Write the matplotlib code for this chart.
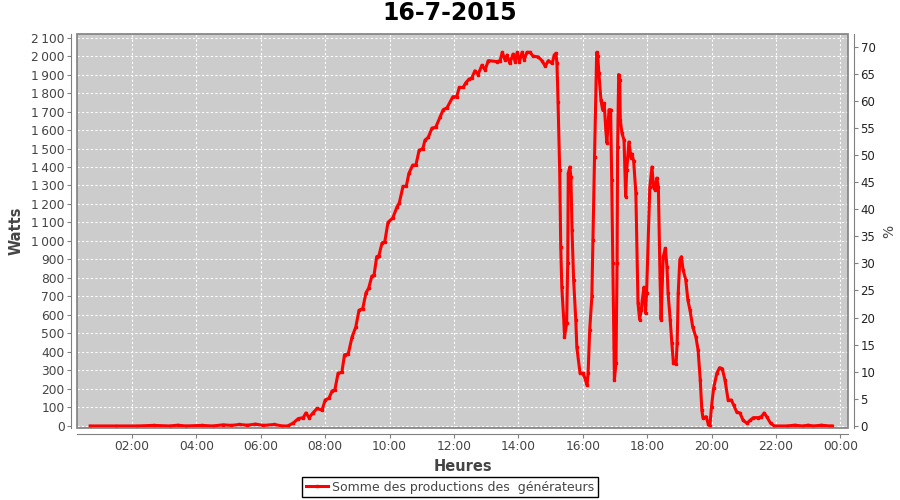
import matplotlib
matplotlib.use('Agg')
import numpy as np
from matplotlib import pyplot as plt
from matplotlib.patches import Rectangle
from matplotlib.ticker import FuncFormatter

# heures de mesure et puissance lue (W)
heures = ['00:42', '01:30', '02:10', '02:40', '03:10', '03:25', '03:40', '04:10', '04:30', '04:50',
          '05:05', '05:20', '05:35', '05:50', '06:05', '06:25', '06:40', '06:50', '07:00', '07:10',
          '07:19', '07:24', '07:30', '07:37', '07:45', '07:54', '08:00', '08:07', '08:13', '08:18',
          '08:24', '08:31', '08:36', '08:43', '08:50', '08:57', '09:03', '09:10', '09:16', '09:21',
          '09:27', '09:31', '09:36', '09:40', '09:46', '09:51', '09:57', '10:06', '10:14', '10:18',
          '10:25', '10:31', '10:36', '10:43', '10:49', '10:55', '11:02', '11:06', '11:12', '11:19',
          '11:26', '11:34', '11:40', '11:47', '11:58', '12:05', '12:10', '12:17', '12:22', '12:28',
          '12:33', '12:39', '12:45', '12:52', '12:58', '13:04', '13:20', '13:26', '13:30', '13:35',
          '13:39', '13:44', '13:50', '13:54', '13:58', '14:02', '14:07', '14:11', '14:16', '14:22',
          '14:27', '14:37', '14:44', '14:50', '14:56', '15:03', '15:07', '15:10', '15:12', '15:14',
          '15:17', '15:19', '15:21', '15:25', '15:26', '15:30', '15:32', '15:33', '15:36', '15:38',
          '15:40', '15:43', '15:47', '15:49', '15:55', '16:00', '16:04', '16:08', '16:10', '16:13',
          '16:17', '16:19', '16:22', '16:26', '16:28', '16:30', '16:34', '16:37', '16:40', '16:43',
          '16:45', '16:49', '16:52', '16:54', '16:56', '16:58', '16:59', '17:02', '17:04', '17:05',
          '17:07', '17:09', '17:10', '17:13', '17:17', '17:20', '17:22', '17:26', '17:30', '17:32',
          '17:35', '17:39', '17:43', '17:46', '17:49', '17:51', '17:54', '17:57', '17:59', '18:05',
          '18:09', '18:12', '18:15', '18:18', '18:21', '18:24', '18:26', '18:30', '18:34', '18:37',
          '18:39', '18:43', '18:46', '18:49', '18:54', '18:56', '18:58', '19:01', '19:04', '19:07',
          '19:12', '19:16', '19:20', '19:25', '19:31', '19:35', '19:39', '19:42', '19:44', '19:50',
          '19:54', '19:57', '20:00', '20:04', '20:10', '20:15', '20:20', '20:25', '20:31', '20:37',
          '20:41', '20:47', '20:53', '20:59', '21:06', '21:12', '21:18', '21:27', '21:33', '21:38',
          '21:43', '21:50', '21:57', '22:20', '22:35', '22:50', '23:00', '23:10', '23:25', '23:40',
          '23:45']
watts = [0, 0, 0, 3, 0, 4, 0, 3, 0, 6,
         3, 8, 4, 10, 3, 8, 0, 0, 15, 40,
         45, 70, 45, 70, 95, 85, 140, 150, 190, 195,
         285, 290, 385, 390, 480, 535, 625, 635, 720, 745,
         810, 815, 915, 920, 990, 995, 1100, 1125, 1185, 1205,
         1295, 1295, 1365, 1410, 1410, 1490, 1500, 1545, 1560, 1610,
         1615, 1670, 1710, 1720, 1780, 1780, 1830, 1830, 1855, 1875,
         1880, 1920, 1900, 1950, 1925, 1975, 1970, 1975, 2020, 1980,
         2005, 1960, 2010, 1970, 2020, 1970, 2020, 1980, 2020, 2020,
         2000, 1995, 1975, 1945, 1975, 1960, 2005, 2015, 1960, 1750,
         1385, 970, 750, 555, 480, 555, 880, 1365, 1400, 1345,
         1060, 790, 575, 425, 285, 285, 260, 220, 285, 520,
         700, 1005, 1455, 2020, 2000, 1910, 1760, 1710, 1745, 1600,
         1530, 1710, 1710, 1330, 880, 425, 250, 340, 880, 1510,
         1900, 1870, 1655, 1585, 1545, 1240, 1385, 1535, 1450, 1470,
         1430, 1260, 665, 575, 625, 680, 750, 610, 720, 1290,
         1400, 1290, 1275, 1340, 1290, 805, 575, 915, 960, 860,
         720, 575, 450, 340, 335, 450, 720, 900, 915, 845,
         790, 680, 625, 535, 480, 410, 250, 85, 45, 50,
         10, 0, 105, 205, 285, 315, 310, 250, 140, 140,
         115, 75, 70, 30, 15, 30, 45, 45, 50, 70,
         50, 15, 0, 0, 4, 0, 4, 0, 4, 0,
         0]

puissance_crete = 2930.0  # W pour 100 %
xticks = [2, 4, 6, 8, 10, 12, 14, 16, 18, 20, 22, 24]
xticklabels = ['02:00', '04:00', '06:00', '08:00', '10:00', '12:00',
               '14:00', '16:00', '18:00', '20:00', '22:00', '00:00']

h = np.array([int(t[:2]) + int(t[3:]) / 60.0 for t in heures])
w = np.array(watts, dtype=float)

gris = '#808080'
txt = '#444444'

fig = plt.figure(figsize=(9, 5), dpi=100)
ax = fig.add_axes([77 / 900, 1 - 428 / 500, (848 - 77) / 900, (428 - 34) / 500])
ax.set_facecolor('#cccccc')

ax.plot(h, w, color='#ff0000', lw=2.2, marker='s', ms=1.8,
        label='Somme des productions des  générateurs', zorder=3)

ax.set_xlim(0.29, 24.24)
ax.set_ylim(-11, 2119)
ax.set_xticks(xticks)
ax.set_xticklabels(xticklabels)
ax.set_yticks(np.arange(0, 2101, 100))
ax.yaxis.set_major_formatter(FuncFormatter(lambda v, p: '{:,}'.format(int(v)).replace(',', '\u2009')))

ax.grid(True, color='white', ls=(0, (2, 2)), lw=0.8)
ax.set_axisbelow(True)

for s in ['top', 'right']:
    ax.spines[s].set_visible(False)
for s in ['left', 'bottom']:
    ax.spines[s].set_position(('outward', 4))
    ax.spines[s].set_color(gris)
ax.tick_params(colors=gris, labelcolor=txt, labelsize=8.8, length=3, pad=2)
ax.add_patch(Rectangle((0, 0), 1, 1, transform=ax.transAxes, fill=False,
                       edgecolor=gris, lw=1.2, clip_on=False, zorder=4))

ax2 = ax.twinx()
y0, y1 = ax.get_ylim()
ax2.set_ylim(y0 / puissance_crete * 100, y1 / puissance_crete * 100)
ax2.set_yticks(np.arange(0, 71, 5))
for s in ['top', 'left', 'bottom']:
    ax2.spines[s].set_visible(False)
ax2.spines['right'].set_position(('outward', 4))
ax2.spines['right'].set_color(gris)
ax2.tick_params(colors=gris, labelcolor='#222222', labelsize=8.5, length=3, pad=2)

ax.set_xlabel('Heures', fontsize=10.5, fontweight='bold', color=txt, labelpad=4)
ax.set_ylabel('Watts', fontsize=10.5, fontweight='bold', color=txt, labelpad=5)
ax2.set_ylabel('%', fontsize=10, color=txt, labelpad=5)

fig.suptitle('16-7-2015', fontsize=17, fontweight='bold', y=0.998)

leg = fig.legend(loc='center', bbox_to_anchor=(0.5, 0.026), fontsize=9,
                 frameon=True, fancybox=False, framealpha=1, edgecolor='black',
                 borderpad=0.3, handlelength=1.8, handletextpad=0.3)
leg.get_frame().set_linewidth(1)
for t in leg.get_texts():
    t.set_color(txt)

plt.savefig('out.png', dpi=100)
